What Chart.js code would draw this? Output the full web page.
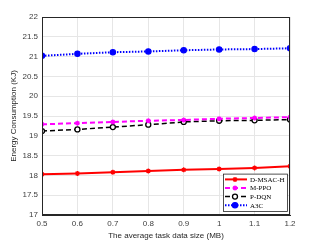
<!DOCTYPE html>
<html>
<head>
<meta charset="utf-8">
<script src="https://cdn.jsdelivr.net/npm/chart.js@4"></script>
<style>
  html, body { margin: 0; padding: 0; background: #fff; }
  #wrap { width: 321px; height: 241px; }
</style>
</head>
<body>
<div id="wrap"><canvas id="energyChart" width="321" height="241"></canvas></div>
<script>
const taskSizes = [0.5, 0.6, 0.7, 0.8, 0.9, 1.0, 1.1, 1.2];
const dmsach = [18.03, 18.05, 18.08, 18.11, 18.14, 18.16, 18.19, 18.23];
const mppo   = [19.29, 19.32, 19.35, 19.38, 19.40, 19.43, 19.45, 19.47];
const pdqn   = [19.12, 19.16, 19.22, 19.28, 19.35, 19.38, 19.39, 19.41];
const a3c    = [21.02, 21.07, 21.11, 21.13, 21.16, 21.18, 21.19, 21.21];
const xTicks = [0.5, 0.6, 0.7, 0.8, 0.9, 1, 1.1, 1.2];
const yTicks = [17, 17.5, 18, 18.5, 19, 19.5, 20, 20.5, 21, 21.5, 22];

const toPoints = arr => arr.map((v, i) => ({ x: taskSizes[i], y: v }));
const fmt = v => String(Math.round(v * 10) / 10);

const series = [
    { label: "D-MSAC-H", data: dmsach, color: "#ff0000", dash: [], width: 2, style: "star", radius: 2.5, fill: "#ff0000" },
    { label: "M-PPO", data: mppo, color: "#ff00ff", dash: [5, 3], width: 2, style: "star", radius: 2.5, fill: "#ff00ff" },
    { label: "P-DQN", data: pdqn, color: "#000000", dash: [5, 3], width: 1.5, style: "circle", radius: 2.5, fill: "#ffffff" },
    { label: "A3C", data: a3c, color: "#0000ff", dash: [1.5, 1.5], width: 2, style: "circle", radius: 2.6, fill: "#0000ff" }
];

// box round the plot area, like matlab "box on"
const boxPlugin = {
    id: "box",
    afterDraw(chart) {
        const { ctx, chartArea: a } = chart;
        ctx.save();
        ctx.strokeStyle = "#262626";
        ctx.lineWidth = 1;
        ctx.strokeRect(a.left + 0.5, a.top + 0.5, a.right - a.left - 1, a.bottom - a.top - 1);
        ctx.restore();
    }
};

// legend drawn inside the axes, bottom right
const legendPlugin = {
    id: "innerLegend",
    afterDraw(chart) {
        const { ctx, chartArea: a } = chart;
        const w = 64, rowH = 8.6, h = rowH * series.length + 3;
        const x0 = a.right - w - 3, y0 = a.bottom - h - 4;
        ctx.save();
        ctx.fillStyle = "#fff";
        ctx.fillRect(x0, y0, w, h);
        ctx.strokeStyle = "#262626";
        ctx.lineWidth = 0.8;
        ctx.strokeRect(x0 + 0.5, y0 + 0.5, w, h);
        ctx.font = "7px 'Liberation Serif', serif";
        ctx.textBaseline = "middle";
        series.forEach((s, i) => {
            const y = y0 + 1.5 + rowH * (i + 0.5);
            ctx.strokeStyle = s.color;
            ctx.lineWidth = s.width;
            ctx.setLineDash(s.dash);
            ctx.beginPath();
            ctx.moveTo(x0 + 2, y);
            ctx.lineTo(x0 + 24, y);
            ctx.stroke();
            ctx.setLineDash([]);
            ctx.lineWidth = 1.3;
            ctx.fillStyle = s.fill;
            Chart.helpers.drawPoint(ctx, { pointStyle: s.style, radius: s.radius, rotation: 0, borderWidth: 1.3 }, x0 + 12, y);
            ctx.fillStyle = "#000";
            ctx.fillText(s.label, x0 + 27, y + 0.5);
        });
        ctx.restore();
    }
};

new Chart(document.getElementById("energyChart"), {
    type: "line",
    data: {
        datasets: series.map(s => ({
            label: s.label,
            data: toPoints(s.data),
            borderColor: s.color,
            backgroundColor: s.fill,
            borderWidth: s.width,
            borderDash: s.dash,
            pointStyle: s.style,
            pointRadius: s.radius,
            pointBorderColor: s.color,
            pointBackgroundColor: s.fill,
            pointBorderWidth: 1.3,
            tension: 0
        }))
    },
    options: {
        responsive: false,
        animation: false,
        layout: { padding: { left: 9, right: 31, top: 17, bottom: 0 } },
        plugins: {
            legend: { display: false },
            tooltip: { enabled: false }
        },
        scales: {
            x: {
                type: "linear",
                min: 0.5,
                max: 1.2,
                afterBuildTicks: axis => { axis.ticks = xTicks.map(v => ({ value: v })); },
                afterFit: axis => { axis.height = 26; },
                grid: { color: "#e6e6e6", drawTicks: false },
                border: { color: "#262626" },
                ticks: {
                    color: "#404040",
                    font: { family: "'Liberation Sans', Arial", size: 8 },
                    padding: 4,
                    maxRotation: 0,
                    callback: fmt
                },
                title: {
                    display: true,
                    text: "The average task data size (MB)",
                    color: "#262626",
                    font: { family: "'Liberation Sans', Arial", size: 8 },
                    padding: { top: 1, bottom: 0 }
                }
            },
            y: {
                min: 17,
                max: 22,
                afterBuildTicks: axis => { axis.ticks = yTicks.map(v => ({ value: v })); },
                afterFit: axis => { axis.width = 33; },
                grid: { color: "#e6e6e6", drawTicks: false },
                border: { color: "#262626" },
                ticks: {
                    color: "#404040",
                    font: { family: "'Liberation Sans', Arial", size: 8 },
                    padding: 4,
                    callback: fmt
                },
                title: {
                    display: true,
                    text: "Energy Consumption (KJ)",
                    color: "#262626",
                    font: { family: "'Liberation Sans', Arial", size: 8 },
                    padding: { top: 0, bottom: 2 }
                }
            }
        }
    },
    plugins: [boxPlugin, legendPlugin]
});
</script>
</body>
</html>
